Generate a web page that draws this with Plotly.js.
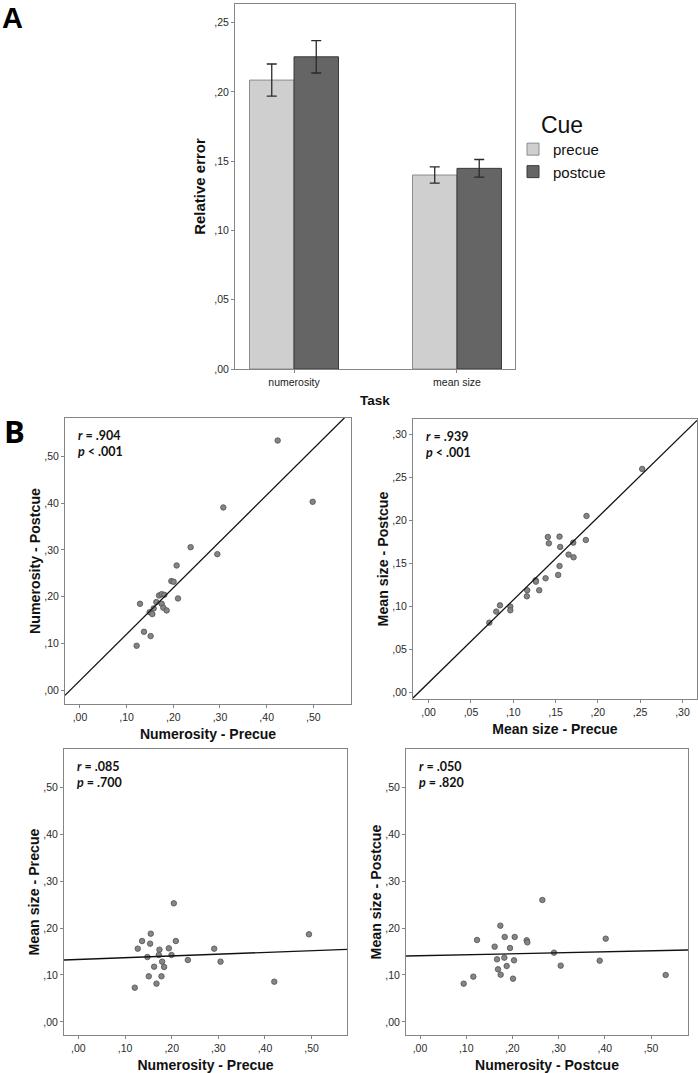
<!DOCTYPE html>
<html>
<head>
<meta charset="utf-8">
<script src="https://cdn.plot.ly/plotly-3.0.1.min.js"></script>
<style>html,body{margin:0;padding:0;background:#fff;}#chart{width:698px;height:1073px;}</style>
</head>
<body>
<div id="chart"></div>
<script>
// ---- Panel A: bar chart data ----
const barCategories = ['numerosity', 'mean size'];
const precueMeans = [0.2085, 0.1400];
const precueErr = [0.0116, 0.0058];
const postcueMeans = [0.2253, 0.1448];
const postcueErr = [0.0117, 0.0064];
const barTickVals = [0, 0.05, 0.10, 0.15, 0.20, 0.25];
const barTickText = [',00', ',05', ',10', ',15', ',20', ',25'];

// ---- Panel B: scatter data ----
// 1: Numerosity precue (x) vs Numerosity postcue (y)
const p1NumPre  = [0.4236,0.4986,0.3071,0.2371,0.2943,0.2071,0.1957,0.2007,0.1693,0.1750,0.1807,0.2100,0.1286,0.1636,0.1750,0.1786,0.1857,0.1579,0.1493,0.1550,0.1371,0.1514,0.1214];
const p1NumPost = [0.5334,0.4026,0.3905,0.3058,0.2909,0.2667,0.2333,0.2319,0.2027,0.2055,0.2041,0.1963,0.1849,0.1885,0.1849,0.1764,0.1707,0.1750,0.1671,0.1629,0.1252,0.1159,0.0953];
// 2: Mean size precue (x) vs Mean size postcue (y)
const p2SizePre  = [0.2524,0.1866,0.1858,0.1409,0.1547,0.1421,0.1709,0.1555,0.1654,0.1713,0.1547,0.1382,0.1531,0.1264,0.1268,0.1307,0.1165,0.1161,0.0965,0.0965,0.0843,0.0799,0.0717];
const p2SizePost = [0.2598,0.2052,0.1773,0.1808,0.1812,0.1734,0.1742,0.1692,0.1603,0.1572,0.1471,0.1328,0.1367,0.1305,0.1289,0.1189,0.1189,0.1119,0.0999,0.0956,0.1014,0.0941,0.0813];
// 3: Numerosity precue (x) vs Mean size precue (y)
const p3NumPre  = [0.2046,0.1552,0.4943,0.1366,0.2089,0.1538,0.1273,0.1939,0.2911,0.1738,0.1724,0.1996,0.1481,0.2346,0.1795,0.3047,0.1624,0.1838,0.1509,0.1781,0.1674,0.1209,0.4199];
const p3SizePre = [0.2525,0.1879,0.1865,0.1723,0.1723,0.1667,0.1560,0.1567,0.1560,0.1539,0.1426,0.1426,0.1383,0.1319,0.1284,0.1284,0.1177,0.1170,0.0972,0.0972,0.0816,0.0730,0.0858];
// 4: Numerosity postcue (x) vs Mean size postcue (y)
const p4NumPost  = [0.2648,0.1739,0.1833,0.2049,0.4019,0.1234,0.2309,0.2323,0.1616,0.1948,0.2900,0.1825,0.1667,0.2035,0.3889,0.1876,0.3045,0.1688,0.1746,0.5317,0.1154,0.2013,0.0945];
const p4SizePost = [0.2596,0.2050,0.1809,0.1809,0.1773,0.1745,0.1738,0.1695,0.1603,0.1574,0.1475,0.1369,0.1333,0.1312,0.1305,0.1191,0.1199,0.1121,0.1007,0.1000,0.0965,0.0922,0.0816];

const statR = ['.904', '.939', '.085', '.050'];
const statP = ['< .001', '< .001', '= .700', '= .820'];
const fitSlope = [0.9896, 0.960, 0.0375, 0.021];
const fitIntercept = [0.0211, 0.0116, 0.133, 0.141];

const tenthVals = [0, 0.1, 0.2, 0.3, 0.4, 0.5];
const tenthText = [',00', ',10', ',20', ',30', ',40', ',50'];
const twentiethVals = [0, 0.05, 0.10, 0.15, 0.20, 0.25, 0.30];
const twentiethText = [',00', ',05', ',10', ',15', ',20', ',25', ',30'];

// ---- layout helpers ----
const W = 698, H = 1073;
const px = x => x / W;
const py = y => 1 - y / H;
const FONT = 'Liberation Sans, Arial, sans-serif';
const frameColor = '#858585';

const scatterRanges = [
  {x: [-0.0321, 0.5807], y: [-0.029, 0.5815]},
  {x: [-0.0185, 0.3172], y: [-0.0074, 0.3178]},
  {x: [-0.0308, 0.5758], y: [-0.0277, 0.5809]},
  {x: [-0.0303, 0.5800], y: [-0.0277, 0.5809]}
];
const scatterBoxes = [
  {l: 65, r: 351, t: 418, b: 704},
  {l: 413, r: 697, t: 419, b: 699},
  {l: 64, r: 347, t: 749, b: 1035},
  {l: 406, r: 688, t: 749, b: 1035}
];
const scatterData = [
  {x: p1NumPre, y: p1NumPost, xt: 'Numerosity - Precue', yt: 'Numerosity - Postcue', ticks: 'tenth'},
  {x: p2SizePre, y: p2SizePost, xt: 'Mean size - Precue', yt: 'Mean size - Postcue', ticks: 'twentieth'},
  {x: p3NumPre, y: p3SizePre, xt: 'Numerosity - Precue', yt: 'Mean size - Precue', ticks: 'tenth'},
  {x: p4NumPost, y: p4SizePost, xt: 'Numerosity - Postcue', yt: 'Mean size - Postcue', ticks: 'tenth'}
];

const traces = [];
traces.push({
  type: 'bar', name: 'precue', x: barCategories, y: precueMeans,
  xaxis: 'x', yaxis: 'y',
  marker: {color: '#cfcfcf', line: {color: '#8c8c8c', width: 1}},
  error_y: {type: 'data', array: precueErr, visible: true, color: '#2a2a2a', thickness: 1.3, width: 5}
});
traces.push({
  type: 'bar', name: 'postcue', x: barCategories, y: postcueMeans,
  xaxis: 'x', yaxis: 'y',
  marker: {color: '#656565', line: {color: '#3a3a3a', width: 1}},
  error_y: {type: 'data', array: postcueErr, visible: true, color: '#2a2a2a', thickness: 1.3, width: 5}
});

const layout = {
  width: W, height: H,
  margin: {l: 0, r: 0, t: 0, b: 0},
  paper_bgcolor: '#fff', plot_bgcolor: '#fff',
  font: {family: FONT, color: '#222'},
  barmode: 'group', bargap: 0.454, bargroupgap: 0,
  showlegend: true,
  legend: {
    x: px(513), y: py(103), xanchor: 'left', yanchor: 'top',
    font: {size: 15, family: FONT, color: '#111'},
    title: {text: 'Cue', font: {size: 23, family: FONT, color: '#111'}, side: 'top center'},
    bgcolor: 'rgba(0,0,0,0)', tracegroupgap: 0, itemclick: false
  },
  annotations: [],
  shapes: []
};

const axisCommon = {
  showgrid: false, zeroline: false, showline: true, mirror: true,
  linecolor: frameColor, linewidth: 1,
  ticks: 'outside', ticklen: 3, tickcolor: frameColor, tickwidth: 1,
  tickfont: {size: 10.5, family: FONT, color: '#2a2a2a'},
  fixedrange: true
};

layout.xaxis = Object.assign({}, axisCommon, {
  domain: [px(235), px(515)], anchor: 'y', type: 'category',
  range: [-0.362, 1.356],
  tickfont: {size: 10.5, family: FONT, color: '#222'},
  title: {text: 'Task', font: {size: 13.5, family: FONT, color: '#111', weight: 'bold'}, standoff: 8}
});
layout.yaxis = Object.assign({}, axisCommon, {
  domain: [py(369), py(4)], anchor: 'x',
  range: [0, 0.2634], tickvals: barTickVals, ticktext: barTickText,
  title: {text: 'Relative error', font: {size: 15, family: FONT, color: '#111', weight: 'bold'}, standoff: 5}
});

scatterData.forEach((d, i) => {
  const n = i + 2;
  const xa = 'x' + n, ya = 'y' + n;
  const box = scatterBoxes[i], rng = scatterRanges[i];
  const tv = d.ticks === 'tenth' ? tenthVals : twentiethVals;
  const tt = d.ticks === 'tenth' ? tenthText : twentiethText;
  layout['xaxis' + n] = Object.assign({}, axisCommon, {
    domain: [px(box.l), px(box.r)], anchor: ya, range: rng.x,
    tickvals: tv, ticktext: tt,
    title: {text: d.xt, font: {size: 14, family: FONT, color: '#111', weight: 'bold'}, standoff: 7}
  });
  layout['yaxis' + n] = Object.assign({}, axisCommon, {
    domain: [py(box.b), py(box.t)], anchor: xa, range: rng.y,
    tickvals: tv, ticktext: tt,
    title: {text: d.yt, font: {size: 14.2, family: FONT, color: '#111', weight: 'bold'}, standoff: 0}
  });
  traces.push({
    type: 'scatter', mode: 'markers', x: d.x, y: d.y, xaxis: xa, yaxis: ya,
    showlegend: false, hoverinfo: 'x+y',
    marker: {size: 5.5, color: '#858585', line: {color: '#505050', width: 0.8}}
  });
  const x0 = rng.x[0], x1 = rng.x[1];
  traces.push({
    type: 'scatter', mode: 'lines', xaxis: xa, yaxis: ya, showlegend: false,
    x: [x0, x1], y: [fitIntercept[i] + fitSlope[i] * x0, fitIntercept[i] + fitSlope[i] * x1],
    line: {color: '#111', width: 1.3}, hoverinfo: 'skip'
  });
  layout.annotations.push({
    xref: 'paper', yref: 'paper', x: px(box.l + 11), y: py(box.t + 17), xanchor: 'left', yanchor: 'middle',
    text: '<b><i>r</i> = ' + statR[i] + '</b>', showarrow: false,
    font: {size: 12.5, family: 'Lato, Open Sans, sans-serif', color: '#111'}
  });
  layout.annotations.push({
    xref: 'paper', yref: 'paper', x: px(box.l + 11), y: py(box.t + 33), xanchor: 'left', yanchor: 'middle',
    text: '<b><i>p</i> ' + statP[i] + '</b>', showarrow: false,
    font: {size: 12.5, family: 'Lato, Open Sans, sans-serif', color: '#111'}
  });
});

layout.annotations.push({
  xref: 'paper', yref: 'paper', x: px(0), y: py(0), xanchor: 'left', yanchor: 'top',
  text: '<b>A</b>', showarrow: false, font: {size: 29, family: FONT, color: '#000'}
});
layout.annotations.push({
  xref: 'paper', yref: 'paper', x: px(2), y: py(431), xanchor: 'left', yanchor: 'middle',
  text: '<b>B</b>', showarrow: false, font: {size: 31, family: 'Open Sans, sans-serif', color: '#000'}
});

Plotly.newPlot('chart', traces, layout, {staticPlot: true, displayModeBar: false});
</script>
</body>
</html>
